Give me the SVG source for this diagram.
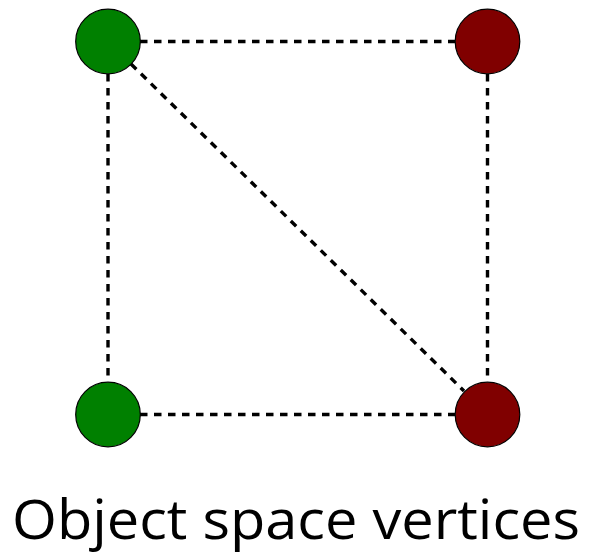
<svg xmlns="http://www.w3.org/2000/svg" width="590" height="555" viewBox="0 0 590 555">
<style>
.edge{stroke:#000;stroke-width:3.4;stroke-dasharray:7.5 6.5;fill:none}
.g{fill:#008000;stroke:#000;stroke-width:1.2}
.r{fill:#800000;stroke:#000;stroke-width:1.2}
.lbl{font-family:"Open Sans","Liberation Sans",sans-serif;font-size:55px;fill:#000}
</style>
<rect width="590" height="555" fill="#fff"/>
<g id="connectors">
<line class="edge" x1="140" y1="41.5" x2="455" y2="41.5"/>
<line class="edge" x1="108" y1="74" x2="108" y2="382"/>
<line class="edge" x1="487.5" y1="74" x2="487.5" y2="382"/>
<line class="edge" x1="140" y1="414.5" x2="455" y2="414.5"/>
<line class="edge" x1="131" y1="64" x2="464" y2="391"/>
</g>
<g id="v1"><circle class="g" cx="108" cy="41.5" r="32.3"/></g>
<g id="v2"><circle class="r" cx="487.5" cy="41.5" r="32.3"/></g>
<g id="v3"><circle class="g" cx="108" cy="414.5" r="32.3"/></g>
<g id="v4"><circle class="r" cx="487.5" cy="414.5" r="32.3"/></g>
<g id="label"><text class="lbl" x="12" y="539" textLength="568" lengthAdjust="spacingAndGlyphs">Object space vertices</text></g>
</svg>
